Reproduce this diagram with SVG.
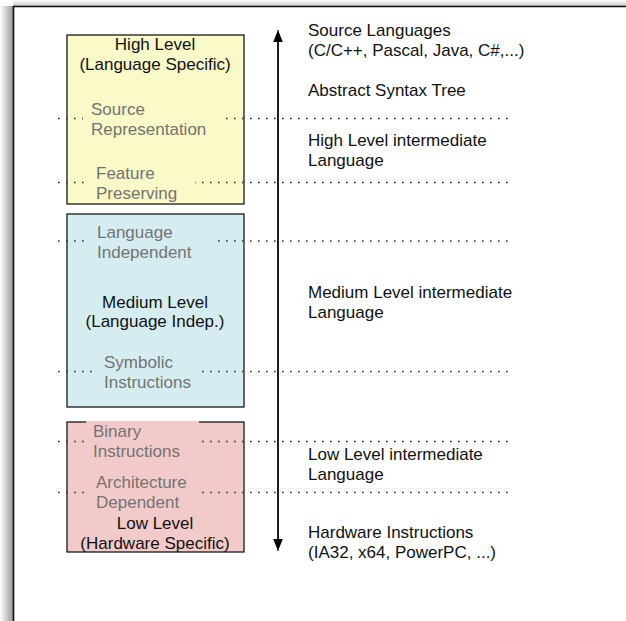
<svg xmlns="http://www.w3.org/2000/svg" width="626" height="621" viewBox="0 0 626 621">
  <defs>
    <linearGradient id="shL" x1="0" y1="0" x2="1" y2="0">
      <stop offset="0" stop-color="#ffffff"/>
      <stop offset="1" stop-color="#9a9a9a"/>
    </linearGradient>
    <linearGradient id="shT" x1="0" y1="0" x2="0" y2="1">
      <stop offset="0" stop-color="#ffffff"/>
      <stop offset="1" stop-color="#c8c8c8"/>
    </linearGradient>
    <marker id="ah" viewBox="0 0 10 14" refX="12" refY="7" markerWidth="10" markerHeight="14" markerUnits="userSpaceOnUse" orient="auto">
      <path d="M0,2.2 L12,7 L0,11.8 Z" fill="#000"/>
    </marker>
    <style>
      .t { font-family: "Liberation Sans", Arial, sans-serif; font-size: 17px; fill: #111; }
      .g { font-family: "Liberation Sans", Arial, sans-serif; font-size: 17px; fill: #737373; }
      .c { text-anchor: middle; }
      .box { stroke: #1a1a1a; stroke-width: 1.3; }
      .dot { stroke: #333; stroke-width: 1.6; stroke-dasharray: 1.6 6.4; fill: none; }
    </style>
  </defs>

  <rect width="626" height="621" fill="#fff"/>
  <!-- frame shadow -->
  <rect x="0" y="6" width="13" height="615" fill="url(#shL)"/>
  <rect x="13" y="0" width="613" height="6" fill="url(#shT)"/>
  <path d="M13.5,621 V6.5 H626" fill="none" stroke="#111" stroke-width="1.6"/>

  <g id="box-high">
    <rect class="box" x="67" y="35" width="177" height="169" fill="#fafac9"/>
  </g>
  <g id="box-medium">
    <rect class="box" x="67" y="214" width="177" height="193" fill="#d5edf1"/>
  </g>
  <g id="box-low">
    <rect class="box" x="67" y="422" width="177" height="130" fill="#f3caca"/>
  </g>

  <g id="connectors">
    <line x1="278" y1="548" x2="278" y2="30" stroke="#000" stroke-width="1.3" marker-end="url(#ah)"/>
    <line x1="278" y1="34" x2="278" y2="551" stroke="#000" stroke-width="1.3" marker-end="url(#ah)"/>
  </g>

  <g id="dotted-lines">
    <line class="dot" x1="58" y1="118.5" x2="514" y2="118.5"/>
    <line class="dot" x1="58" y1="182.5" x2="514" y2="182.5"/>
    <line class="dot" x1="58" y1="241" x2="514" y2="241"/>
    <line class="dot" x1="58" y1="371.5" x2="514" y2="371.5"/>
    <line class="dot" x1="58" y1="441.5" x2="514" y2="441.5"/>
    <line class="dot" x1="58" y1="492.5" x2="514" y2="492.5"/>
  </g>

  <g id="high-labels">
    <text class="t c" x="155" y="50">High Level</text>
    <text class="t c" x="155" y="70">(Language Specific)</text>
    <g id="lbl-source-repr">
      <rect x="83" y="100" width="137" height="40" fill="#fafac9"/>
      <text class="g" x="91" y="115">Source</text>
      <text class="g" x="91" y="135">Representation</text>
    </g>
    <g id="lbl-feature">
      <rect x="88" y="163" width="107" height="40" fill="#fafac9"/>
      <text class="g" x="96" y="179">Feature</text>
      <text class="g" x="96" y="199">Preserving</text>
    </g>
  </g>

  <g id="medium-labels">
    <g id="lbl-lang-indep">
      <rect x="88" y="222" width="124" height="40" fill="#d5edf1"/>
      <text class="g" x="97" y="237.5">Language</text>
      <text class="g" x="97" y="257.5">Independent</text>
    </g>
    <text class="t c" x="155" y="307.5">Medium Level</text>
    <text class="t c" x="155" y="327">(Language Indep.)</text>
    <g id="lbl-symbolic">
      <rect x="95" y="352" width="107" height="40" fill="#d5edf1"/>
      <text class="g" x="104" y="368">Symbolic</text>
      <text class="g" x="104" y="388">Instructions</text>
    </g>
  </g>

  <g id="low-labels">
    <g id="lbl-binary">
      <rect x="86" y="421" width="113" height="40" fill="#f3caca"/>
      <text class="g" x="93" y="437">Binary</text>
      <text class="g" x="93" y="457">Instructions</text>
    </g>
    <g id="lbl-arch">
      <rect x="88" y="472" width="109" height="40" fill="#f3caca"/>
      <text class="g" x="96" y="488">Architecture</text>
      <text class="g" x="96" y="508">Dependent</text>
    </g>
    <text class="t c" x="155" y="529">Low Level</text>
    <text class="t c" x="155" y="549">(Hardware Specific)</text>
  </g>

  <g id="right-labels">
    <text class="t" x="308" y="35.5">Source Languages</text>
    <text class="t" x="308" y="56">(C/C++, Pascal, Java, C#,...)</text>
    <text class="t" x="308" y="96">Abstract Syntax Tree</text>
    <text class="t" x="308" y="146">High Level intermediate</text>
    <text class="t" x="308" y="166">Language</text>
    <text class="t" x="308" y="298">Medium Level intermediate</text>
    <text class="t" x="308" y="318">Language</text>
    <text class="t" x="308" y="460">Low Level intermediate</text>
    <text class="t" x="308" y="480">Language</text>
    <text class="t" x="308" y="538">Hardware Instructions</text>
    <text class="t" x="308" y="558">(IA32, x64, PowerPC, ...)</text>
  </g>
</svg>
